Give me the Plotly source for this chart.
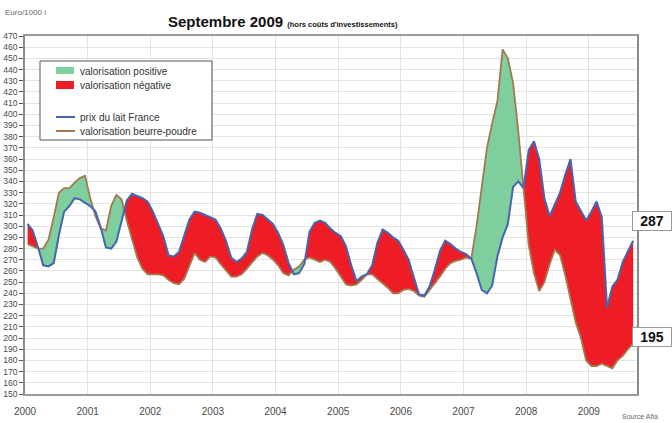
import numpy as np
import plotly.graph_objects as go

# ---------------- data (Euro / 1000 l), monthly Jan 2000 -> Sep 2009 ----------------
annees = [2000, 2001, 2002, 2003, 2004, 2005, 2006, 2007, 2008, 2009]
annee_debut = 2000

prix_lait_france = [
    302, 296, 281, 265, 264, 267, 292, 313, 318, 325, 324, 321,   # 2000
    318, 313, 299, 281, 280, 286, 305, 323, 329, 327, 325, 322,   # 2001
    313, 302, 291, 274, 273, 277, 291, 306, 313, 312, 310, 308,   # 2002
    306, 298, 287, 272, 268, 271, 277, 297, 311, 310, 306, 302,   # 2003
    294, 283, 267, 257, 258, 266, 295, 303, 305, 303, 298, 294,   # 2004
    291, 282, 265, 251, 255, 257, 265, 285, 297, 294, 290, 287,   # 2005
    279, 270, 254, 239, 238, 246, 261, 278, 287, 284, 280, 277,   # 2006
    275, 271, 258, 243, 240, 247, 273, 290, 302, 335, 340, 334,   # 2007
    368, 376, 360, 325, 309, 319, 330, 346, 360, 322, 314, 305,   # 2008
    313, 322, 308, 227, 246, 252, 268, 278, 287,                  # 2009
]

valorisation_beurre_poudre = [
    284, 282, 280, 280, 288, 308, 330, 334, 334, 339, 343, 345,   # 2000
    325, 309, 298, 296, 318, 328, 324, 305, 288, 272, 262, 257,   # 2001
    257, 257, 256, 252, 249, 248, 253, 264, 276, 270, 268, 273,   # 2002
    272, 266, 260, 255, 255, 257, 262, 268, 273, 276, 274, 270,   # 2003
    265, 258, 256, 261, 264, 270, 272, 270, 268, 270, 268, 262,   # 2004
    255, 248, 247, 248, 252, 257, 257, 253, 249, 245, 240, 240,   # 2005
    243, 244, 242, 238, 237, 243, 248, 255, 262, 267, 269, 270,   # 2006
    272, 271, 300, 335, 370, 392, 412, 458, 450, 428, 385, 334,   # 2007
    283, 258, 242, 250, 266, 279, 274, 256, 236, 214, 200, 180,   # 2008
    175, 175, 177, 175, 173, 180, 184, 190, 195,                  # 2009
]

y_ticks = list(range(150, 471, 10))

# ---------------- styles ----------------
VERT = "#7FCE9E"
ROUGE = "#EE1C24"
BLEU = "#4466B0"
BRUN = "#A27A4E"
GRILLE = "#E2E2E2"
TXT = "#4A4A4A"
FONT = "Liberation Sans, Arial, sans-serif"
NARROW = "Liberation Sans Narrow, Arial Narrow, Liberation Sans, sans-serif"

n = len(prix_lait_france)
x = np.array([annee_debut + (k + 0.5) / 12 for k in range(n)])
a = np.array(prix_lait_france, dtype=float)
b = np.array(valorisation_beurre_poudre, dtype=float)


def avec_croisements(xs, a, b):
    X, A, B = [xs[0]], [a[0]], [b[0]]
    for i in range(1, len(xs)):
        d0 = b[i - 1] - a[i - 1]
        d1 = b[i] - a[i]
        if d0 * d1 < 0:
            f = d0 / (d0 - d1)
            xc = xs[i - 1] + f * (xs[i] - xs[i - 1])
            yc = a[i - 1] + f * (a[i] - a[i - 1])
            X.append(xc); A.append(yc); B.append(yc)
        X.append(xs[i]); A.append(a[i]); B.append(b[i])
    return np.array(X), np.array(A), np.array(B)


X, A, B = avec_croisements(x, a, b)

fig = go.Figure()
invis = dict(width=0, color="rgba(0,0,0,0)")
fig.add_trace(go.Scatter(x=X, y=A, mode="lines", line=invis, hoverinfo="skip", showlegend=False))
fig.add_trace(go.Scatter(x=X, y=np.maximum(A, B), mode="lines", line=invis, fill="tonexty",
                         fillcolor=VERT, hoverinfo="skip", showlegend=False))
fig.add_trace(go.Scatter(x=X, y=A, mode="lines", line=invis, hoverinfo="skip", showlegend=False))
fig.add_trace(go.Scatter(x=X, y=np.minimum(A, B), mode="lines", line=invis, fill="tonexty",
                         fillcolor=ROUGE, hoverinfo="skip", showlegend=False))
fig.add_trace(go.Scatter(x=x, y=b, mode="lines", line=dict(color=BRUN, width=1.8),
                         name="valorisation beurre-poudre", showlegend=False))
fig.add_trace(go.Scatter(x=x, y=a, mode="lines", line=dict(color=BLEU, width=2),
                         name="prix du lait France", showlegend=False))

W, H = 672, 423
L, R, T, Bm = 25, 35, 36, 29
pw, ph = W - L - R, H - T - Bm


def px(v):
    return (v - L) / pw


def py(v):
    return (H - Bm - v) / ph


fig.update_layout(
    width=W, height=H,
    margin=dict(l=L, r=R, t=T, b=Bm, autoexpand=False),
    paper_bgcolor="white", plot_bgcolor="white",
    showlegend=False,
    font=dict(family=FONT, color=TXT),
)
fig.update_xaxes(
    range=[annee_debut, annee_debut + 9.77],
    tickvals=annees, ticktext=[str(v) for v in annees],
    showgrid=True, gridcolor=GRILLE, gridwidth=1,
    showline=True, linecolor="#9A9A9A", linewidth=1.5, mirror=True,
    ticks="", tickfont=dict(size=10, color=TXT, family=FONT),
    ticklabelstandoff=7,
    zeroline=False, automargin=False,
)
fig.update_yaxes(
    range=[150, 470],
    tickvals=y_ticks, ticktext=[str(v) for v in y_ticks],
    showgrid=True, gridcolor=GRILLE, gridwidth=1,
    showline=True, linecolor="#8A8A8A", linewidth=1.5, mirror=True,
    ticks="outside", ticklen=4, tickcolor="#555", tickwidth=1,
    tickfont=dict(size=8.5, color=TXT, family=NARROW),
    zeroline=False, automargin=False,
)

shapes = []
# legend box
shapes.append(dict(type="rect", xref="paper", yref="paper", x0=px(40), x1=px(212), y0=py(140), y1=py(61),
                   line=dict(color="#555", width=1), fillcolor="white", layer="above"))
shapes.append(dict(type="rect", xref="paper", yref="paper", x0=px(56), x1=px(74), y0=py(74), y1=py(67),
                   line=dict(width=0), fillcolor=VERT, layer="above"))
shapes.append(dict(type="rect", xref="paper", yref="paper", x0=px(56), x1=px(74), y0=py(89), y1=py(81),
                   line=dict(width=0), fillcolor=ROUGE, layer="above"))
shapes.append(dict(type="line", xref="paper", yref="paper", x0=px(56), x1=px(75), y0=py(117), y1=py(117),
                   line=dict(color=BLEU, width=2), layer="above"))
shapes.append(dict(type="line", xref="paper", yref="paper", x0=px(56), x1=px(75), y0=py(131), y1=py(131),
                   line=dict(color=BRUN, width=2), layer="above"))

ann = []
for txt, yy in [("valorisation positive", 71), ("valorisation négative", 85),
                ("prix du lait France", 117), ("valorisation beurre-poudre", 131)]:
    ann.append(dict(xref="paper", yref="paper", x=px(78), y=py(yy), text=txt, showarrow=False,
                    xanchor="left", yanchor="middle", font=dict(size=10, color="#333", family=FONT)))

# title
ann.append(dict(xref="paper", yref="paper", x=px(283), y=py(21), showarrow=False,
                xanchor="center", yanchor="middle",
                text="<b>Septembre 2009</b> <b><span style='font-size:7.5px'>(hors coûts d'investissements)</span></b>",
                font=dict(size=15, color="#111", family=NARROW)))
ann.append(dict(xref="paper", yref="paper", x=px(3), y=py(12), showarrow=False,
                xanchor="left", yanchor="middle", text="Euro/1000 l",
                font=dict(size=8, color="#666", family=FONT)))
ann.append(dict(xref="paper", yref="paper", x=px(620), y=py(417), showarrow=False,
                xanchor="left", yanchor="middle", text="Source Afla",
                font=dict(size=7, color="#666", family=FONT)))

# end-value labels
for val, yy in [(prix_lait_france[-1], 221.5), (valorisation_beurre_poudre[-1], 336.5)]:
    ann.append(dict(xref="paper", yref="paper", x=px(632), y=py(yy), showarrow=False,
                    xanchor="left", yanchor="middle", text="<b>%d</b>" % val,
                    width=36, height=16, align="center",
                    bgcolor="white", bordercolor="#9A9A9A", borderwidth=1, borderpad=1,
                    font=dict(size=14, color="#111", family=FONT)))

fig.update_layout(shapes=shapes, annotations=ann)
fig.write_html("out.html", config={"displayModeBar": False},
               post_script="document.body.style.margin='0px';")
